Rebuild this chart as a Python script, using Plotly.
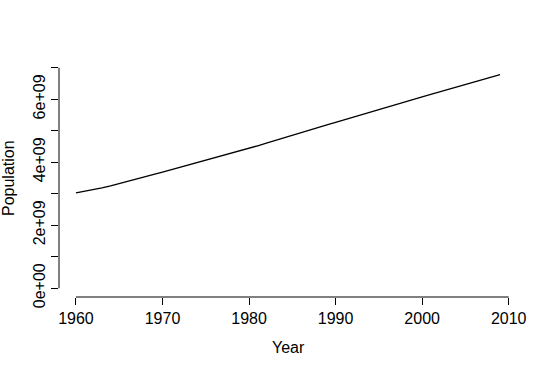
import plotly.graph_objects as go

years = list(range(1960, 2010))
population = [
    3.030e9, 3.075e9, 3.125e9, 3.185e9, 3.250e9, 3.318e9, 3.388e9, 3.460e9, 3.535e9, 3.612e9,
    3.690e9, 3.764e9, 3.838e9, 3.912e9, 3.986e9, 4.060e9, 4.134e9, 4.210e9, 4.288e9, 4.366e9,
    4.445e9, 4.524e9, 4.604e9, 4.684e9, 4.765e9, 4.847e9, 4.930e9, 5.014e9, 5.099e9, 5.184e9,
    5.268e9, 5.351e9, 5.433e9, 5.515e9, 5.596e9, 5.677e9, 5.758e9, 5.839e9, 5.920e9, 5.998e9,
    6.076e9, 6.154e9, 6.232e9, 6.310e9, 6.388e9, 6.466e9, 6.544e9, 6.622e9, 6.700e9, 6.780e9,
]
x_ticks = [1960, 1970, 1980, 1990, 2000, 2010]
y_ticks = [0, 1e9, 2e9, 3e9, 4e9, 5e9, 6e9, 7e9]
y_ticktext = ["0e+00", "", "2e+09", "", "4e+09", "", "6e+09", ""]

FONT = "Liberation Sans, Arial, Helvetica, sans-serif"

fig = go.Figure()
fig.add_trace(go.Scatter(x=years, y=population, mode="lines",
                         line=dict(color="black", width=1.3),
                         showlegend=False, hoverinfo="skip"))

x_pad = (years[-1] - years[0]) * 0.04
y_pad = (y_ticks[-1] - y_ticks[0]) * 0.04

fig.update_layout(
    width=547, height=372,
    margin=dict(l=59, r=30, t=59, b=75),
    paper_bgcolor="white", plot_bgcolor="white",
    font=dict(family=FONT, size=16, color="black"),
    xaxis=dict(range=[years[0] - x_pad, years[-1] + x_pad],
               tickvals=x_ticks, ticktext=[str(v) for v in x_ticks],
               ticks="outside", ticklen=7, tickwidth=1, tickcolor="black",
               showgrid=False, zeroline=False, showline=False,
               automargin=False),
    yaxis=dict(range=[y_ticks[0] - y_pad, y_ticks[-1] + y_pad],
               tickvals=y_ticks, ticktext=y_ticktext, tickangle=-90,
               ticks="outside", ticklen=7, tickwidth=1, tickcolor="black",
               showgrid=False, zeroline=False, showline=False,
               automargin=False),
)
# R-style axis lines spanning first to last tick
fig.add_shape(type="line", xref="x", yref="paper",
              x0=x_ticks[0], x1=x_ticks[-1], y0=0, y1=0,
              line=dict(color="black", width=1))
fig.add_shape(type="line", xref="paper", yref="y",
              x0=0, x1=0, y0=y_ticks[0], y1=y_ticks[-1],
              line=dict(color="black", width=1))
# axis titles
fig.add_annotation(text="Year", xref="paper", yref="paper",
                   x=0.5, y=-(348 - 297.5) / 238.0, xanchor="center", yanchor="middle",
                   showarrow=False, font=dict(family=FONT, size=16, color="black"))
fig.add_annotation(text="Population", xref="paper", yref="paper",
                   x=-(59 - 8) / 458.0, y=0.5, xanchor="center", yanchor="middle",
                   textangle=-90, showarrow=False,
                   font=dict(family=FONT, size=16, color="black"))

fig.write_html("out.html", config={"displayModeBar": False},
               post_script="document.body.style.margin='0';document.body.style.padding='0';")
